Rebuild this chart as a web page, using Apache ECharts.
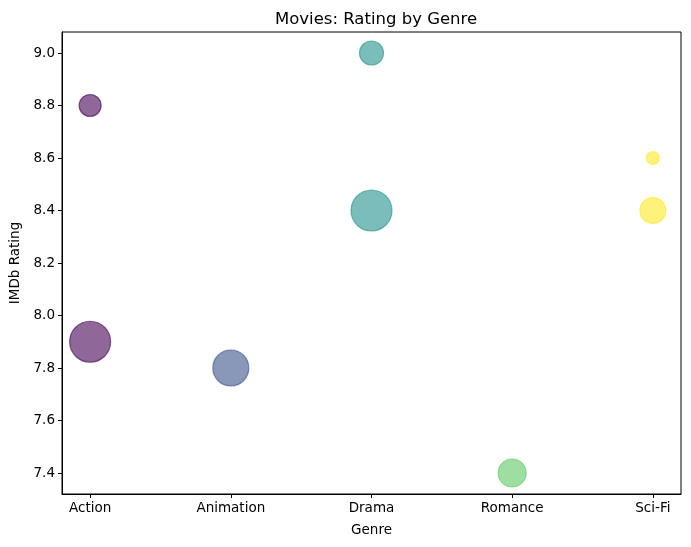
<!doctype html>
<html>
<head>
  <meta charset="utf-8">
  <title>Movies: Rating by Genre</title>
  <script src="https://cdn.jsdelivr.net/npm/echarts@6/dist/echarts.min.js"></script>
  <style>
    html, body { margin: 0; padding: 0; background: #fff; }
    #main { width: 691px; height: 547px; }
  </style>
</head>
<body>
  <div id="main"></div>
<script>
// categories on the x axis
var genres = ['Action', 'Animation', 'Drama', 'Romance', 'Sci-Fi'];
// one entry per movie
var movieGenre = ['Action', 'Action', 'Animation', 'Drama', 'Drama', 'Romance', 'Sci-Fi', 'Sci-Fi'];
var movieRating = [8.8, 7.9, 7.8, 9.0, 8.4, 7.4, 8.6, 8.4];
var movieSize = [22, 41, 36, 24, 41, 28, 13, 26];
// viridis colour per genre
var genreColor = ['68,1,84', '59,82,139', '33,145,140', '94,201,98', '253,231,37'];
var yTicks = [7.4, 7.6, 7.8, 8.0, 8.2, 8.4, 8.6, 8.8, 9.0];

var points = movieGenre.map(function (g, i) {
  var k = genres.indexOf(g);
  return {
    value: [k, movieRating[i], movieSize[i]],
    itemStyle: {
      color: 'rgba(' + genreColor[k] + ',0.6)',
      borderColor: 'rgba(' + genreColor[k] + ',0.6)',
      borderWidth: 1.2,
      opacity: 1
    }
  };
});

var font = 'DejaVu Sans';
var myChart = echarts.init(document.getElementById('main'), null, { renderer: 'canvas' });
var option = {
  animation: false,
  backgroundColor: '#fff',
  textStyle: { fontFamily: font },
  title: {
    text: 'Movies: Rating by Genre',
    left: 270,
    top: 6,
    textStyle: { fontFamily: font, fontSize: 16.5, fontWeight: 'normal', color: '#000' }
  },
  grid: {
    left: 62, right: 10, top: 32, bottom: 53,
    show: true, borderColor: '#000', borderWidth: 1, backgroundColor: 'transparent'
  },
  xAxis: {
    type: 'value',
    min: -0.2,
    max: 4.2,
    name: 'Genre',
    nameLocation: 'middle',
    nameGap: 29,
    nameTextStyle: { fontFamily: font, fontSize: 13.5, color: '#000' },
    axisLine: { show: true, onZero: false, lineStyle: { color: '#000', width: 1 } },
    splitLine: { show: false },
    axisTick: { show: true, length: 4, lineStyle: { color: '#000' }, customValues: [0, 1, 2, 3, 4] },
    axisLabel: {
      customValues: [0, 1, 2, 3, 4],
      margin: 7,
      fontFamily: font, fontSize: 13.5, color: '#000',
      formatter: function (v) { return genres[Math.round(v)]; }
    }
  },
  yAxis: {
    type: 'value',
    min: 7.32,
    max: 9.08,
    name: 'IMDb Rating',
    nameLocation: 'middle',
    nameGap: 39,
    nameTextStyle: { fontFamily: font, fontSize: 13.5, color: '#000' },
    axisLine: { show: true, onZero: false, lineStyle: { color: '#000', width: 1 } },
    splitLine: { show: false },
    axisTick: { show: true, length: 4, lineStyle: { color: '#000' }, customValues: yTicks },
    axisLabel: {
      customValues: yTicks,
      margin: 7,
      fontFamily: font, fontSize: 13.5, color: '#000',
      formatter: function (v) { return v.toFixed(1); }
    }
  },
  series: [{
    type: 'scatter',
    data: points,
    symbolSize: function (val) { return val[2]; }
  }]
};
myChart.setOption(option);
</script>
</body>
</html>
